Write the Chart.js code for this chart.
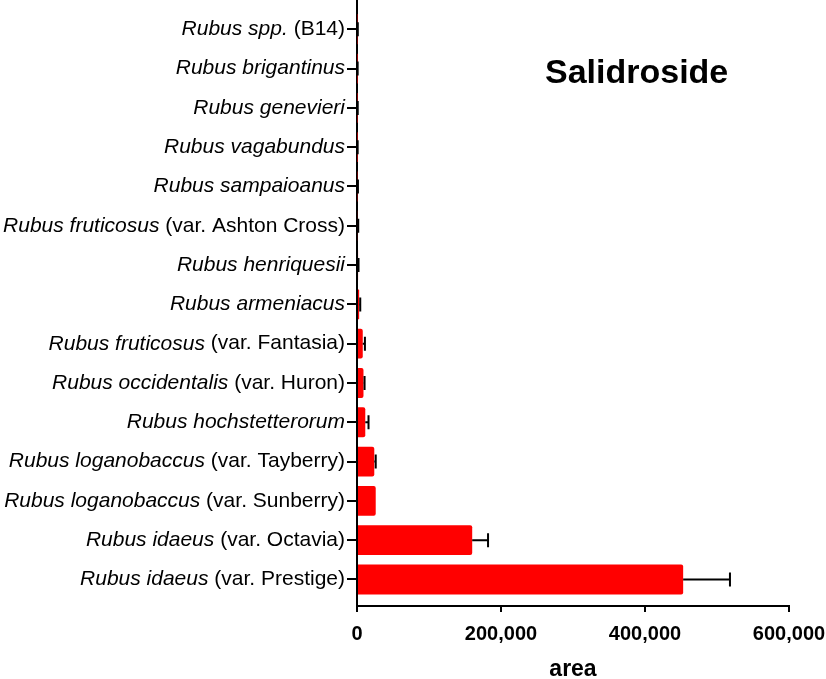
<!DOCTYPE html>
<html>
<head>
<meta charset="utf-8">
<script src="https://cdn.jsdelivr.net/npm/chart.js@4"></script>
<style>
  html, body { margin: 0; padding: 0; background: #fff; }
  #wrap { width: 826px; height: 679px; }
</style>
</head>
<body>
<div id="wrap"><canvas id="chart"></canvas></div>
<script>
// species (italic part) and variety (upright part), top to bottom
const species = [
    'Rubus spp.', 'Rubus brigantinus', 'Rubus genevieri', 'Rubus vagabundus',
    'Rubus sampaioanus', 'Rubus fruticosus', 'Rubus henriquesii', 'Rubus armeniacus',
    'Rubus fruticosus', 'Rubus occidentalis', 'Rubus hochstetterorum',
    'Rubus loganobaccus', 'Rubus loganobaccus', 'Rubus idaeus', 'Rubus idaeus'
];
const varieties = [
    '(B14)', '', '', '', '', '(var. Ashton Cross)', '', '',
    '(var. Fantasia)', '(var. Huron)', '', '(var. Tayberry)', '(var. Sunberry)',
    '(var. Octavia)', '(var. Prestige)'
];
const areaMean = [800, 600, 700, 600, 900, 1200, 1500, 3000, 8000, 9000, 11500, 24000, 26000, 160000, 453000];
const areaSD   = [300, 300, 300, 300, 400, 500, 600, 1500, 3000, 1500, 4500, 2000, 0, 22000, 65000];
const xTicks = [0, 200000, 400000, 600000];

const FAMILY = '"Liberation Sans", Arial, sans-serif';
const labelFont = '21px ' + FAMILY;

// GraphPad-style spacing: a little extra room above the first and below the last category
const bandOffset = {
    id: 'bandOffset',
    afterLayout(chart) {
        const ys = chart.scales.y;
        ys._startValue = -0.745;
        ys._valueRange = species.length + 0.42;
    }
};

const errorBars = {
    id: 'errorBars',
    afterDatasetsDraw(chart) {
        const ctx = chart.ctx;
        const xs = chart.scales.x;
        const meta = chart.getDatasetMeta(0);
        ctx.save();
        ctx.strokeStyle = '#000';
        ctx.lineWidth = 2;
        meta.data.forEach((bar, i) => {
            if (!areaSD[i]) return;
            const x0 = xs.getPixelForValue(areaMean[i]);
            const x1 = xs.getPixelForValue(areaMean[i] + areaSD[i]);
            const y = bar.y;
            ctx.beginPath();
            ctx.moveTo(x0, y); ctx.lineTo(x1, y);
            ctx.moveTo(x1, y - 7); ctx.lineTo(x1, y + 7);
            ctx.stroke();
        });
        ctx.restore();
    }
};

const mixedLabels = {
    id: 'mixedLabels',
    afterDraw(chart) {
        const ctx = chart.ctx;
        const ys = chart.scales.y;
        const right = chart.chartArea.left - 12;
        ctx.save();
        ctx.fillStyle = '#000';
        ctx.textBaseline = 'middle';
        ctx.textAlign = 'right';
        species.forEach((sp, i) => {
            const y = ys.getPixelForValue(i);
            let x = right;
            if (varieties[i]) {
                ctx.font = labelFont;
                ctx.fillText(varieties[i], x, y);
                x -= ctx.measureText(varieties[i]).width + ctx.measureText(' ').width;
            }
            ctx.font = 'italic ' + labelFont;
            ctx.fillText(sp, x, y);
        });
        // panel title
        ctx.font = 'bold 34px ' + FAMILY;
        ctx.textAlign = 'left';
        ctx.fillText('Salidroside', 545, 74);
        ctx.restore();
    }
};

new Chart(document.getElementById('chart'), {
    type: 'bar',
    data: {
        labels: species.map((s, i) => s + (varieties[i] ? ' ' + varieties[i] : '')),
        datasets: [{
            data: areaMean,
            backgroundColor: '#ff0000',
            borderWidth: 0,
            borderRadius: 2,
            borderSkipped: 'start',
            categoryPercentage: 1,
            barPercentage: 0.76
        }]
    },
    options: {
        indexAxis: 'y',
        responsive: true,
        maintainAspectRatio: false,
        animation: false,
        layout: { padding: { top: 0, right: 37, left: 0, bottom: 0 } },
        plugins: { legend: { display: false }, tooltip: { enabled: false } },
        scales: {
            x: {
                min: 0, max: 600000,
                afterBuildTicks: s => { s.ticks = xTicks.map(v => ({ value: v })); },
                afterFit: s => { s.height = 73; s.paddingRight = 0; s.paddingLeft = 0; },
                border: { color: '#000', width: 2 },
                grid: { drawOnChartArea: false, color: '#000', lineWidth: 2, tickLength: 6 },
                ticks: {
                    color: '#000',
                    padding: 10,
                    maxRotation: 0,
                    font: { family: FAMILY, size: 20, weight: 'bold' },
                    callback: v => v.toLocaleString('en-US')
                },
                title: {
                    display: true, text: 'area', color: '#000',
                    padding: { top: 0, bottom: -2 },
                    font: { family: FAMILY, size: 23, weight: 'bold', lineHeight: 1 }
                }
            },
            y: {
                offset: true,
                afterFit: s => { s.width = 357; },
                border: { color: '#000', width: 2 },
                grid: { offset: false, drawOnChartArea: false, color: '#000', lineWidth: 2, tickLength: 10 },
                ticks: { display: false }
            }
        }
    },
    plugins: [bandOffset, errorBars, mixedLabels]
});
</script>
</body>
</html>
